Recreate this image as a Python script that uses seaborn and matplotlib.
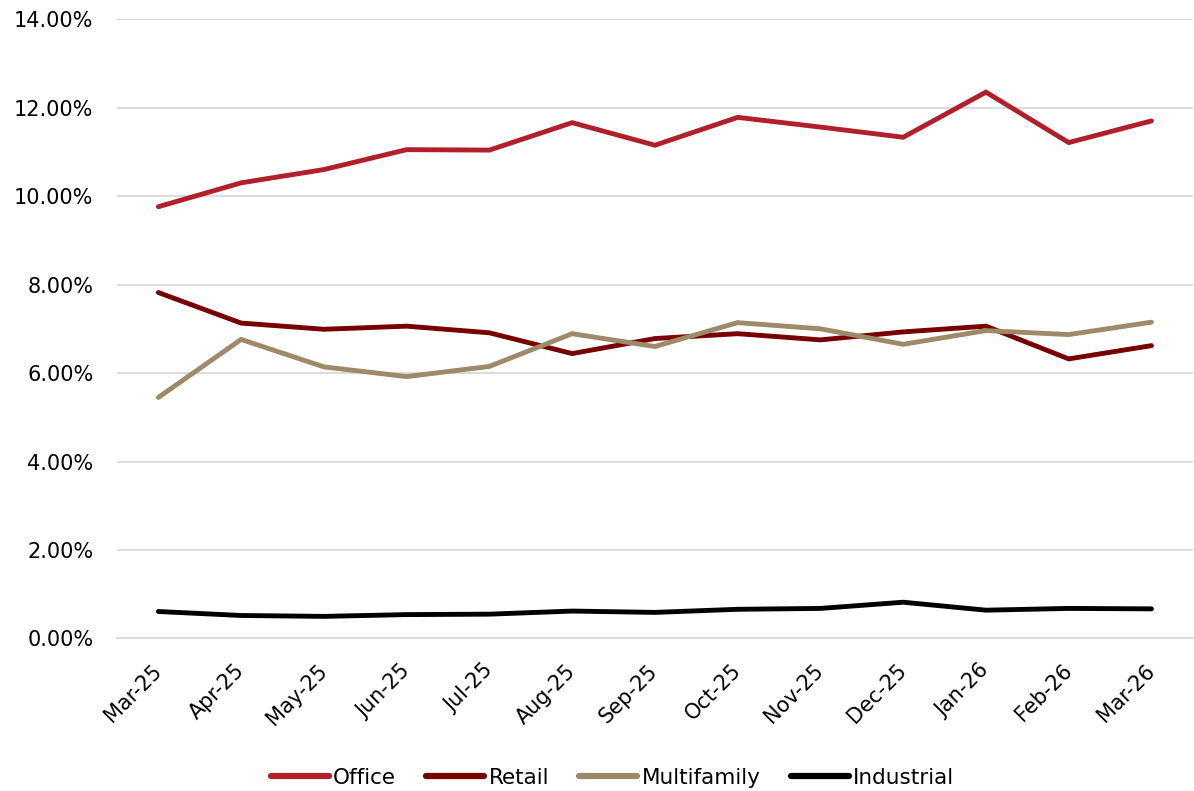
import matplotlib
matplotlib.use("Agg")
import matplotlib.pyplot as plt
import seaborn as sns
import pandas as pd
from matplotlib.ticker import FuncFormatter, FixedLocator

months = ["Mar-25", "Apr-25", "May-25", "Jun-25", "Jul-25", "Aug-25", "Sep-25",
          "Oct-25", "Nov-25", "Dec-25", "Jan-26", "Feb-26", "Mar-26"]

office = [9.76, 10.30, 10.60, 11.05, 11.04, 11.66, 11.15, 11.78, 11.56, 11.33, 12.35, 11.21, 11.70]
retail = [7.82, 7.13, 6.99, 7.06, 6.91, 6.44, 6.78, 6.89, 6.75, 6.93, 7.06, 6.32, 6.62]
multifamily = [5.45, 6.76, 6.14, 5.92, 6.15, 6.89, 6.60, 7.14, 7.00, 6.65, 6.96, 6.87, 7.15]
industrial = [0.61, 0.52, 0.50, 0.54, 0.55, 0.62, 0.59, 0.66, 0.68, 0.82, 0.64, 0.68, 0.67]

series = {"Office": office, "Retail": retail, "Multifamily": multifamily, "Industrial": industrial}
colors = {"Office": "#B11F2A", "Retail": "#780000", "Multifamily": "#9C8A68", "Industrial": "#000000"}

rows = []
for name, vals in series.items():
    for i, (m, v) in enumerate(zip(months, vals)):
        rows.append({"idx": i, "month": m, "series": name, "value": v})
df = pd.DataFrame(rows)

sns.set_style("white")
plt.rcParams["font.family"] = ["DejaVu Sans"]
plt.rcParams["text.color"] = "#000000"

fig = plt.figure(figsize=(11.94, 7.91), dpi=100)
ax = fig.add_axes([0.098, 0.1928, 0.901, 0.783])

sns.lineplot(data=df, x="idx", y="value", hue="series", palette=colors,
             hue_order=list(series.keys()), linewidth=3.5, ax=ax,
             legend=False, solid_capstyle="round", solid_joinstyle="miter")

ax.set_ylim(0, 14)
ax.set_xlim(-0.5, len(months) - 0.5)
ax.set_yticks(range(0, 15, 2))
ax.yaxis.set_major_formatter(FuncFormatter(lambda v, p: f"{v:.2f}%"))
ax.grid(axis="y", color="#D9D9D9", linewidth=1.3)
ax.grid(axis="x", visible=False)
ax.set_axisbelow(True)

ax.set_xticks(range(len(months)))
ax.set_xticklabels(months, rotation=45, ha="right", va="center", rotation_mode="anchor")
ax.xaxis.set_minor_locator(FixedLocator([i - 0.5 for i in range(len(months) + 1)]))
ax.tick_params(axis="x", which="major", length=0, pad=21, labelsize=15, colors="#000000")
ax.tick_params(axis="x", which="minor", length=7, width=1.2, color="#D9D9D9")
ax.tick_params(axis="y", length=0, pad=17, labelsize=15, colors="#000000")

for s in ["top", "right", "left"]:
    ax.spines[s].set_visible(False)
ax.spines["bottom"].set_color("#D9D9D9")
ax.spines["bottom"].set_linewidth(1.3)
ax.set_xlabel("")
ax.set_ylabel("")

handles = [plt.Line2D([], [], color=colors[n], linewidth=4.5, solid_capstyle="round") for n in series]
leg = fig.legend(handles, list(series.keys()), loc="center", bbox_to_anchor=(0.513, 0.017),
                 ncol=4, frameon=False, fontsize=15.5, handlelength=2.7, handletextpad=0.2,
                 columnspacing=1.4)
for t in leg.get_texts():
    t.set_color("#000000")

fig.savefig("out.png", dpi=100)
